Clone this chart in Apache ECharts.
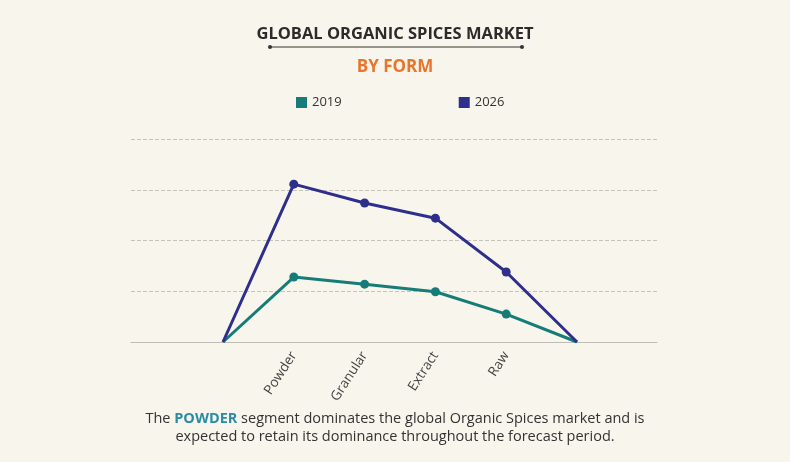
<!DOCTYPE html>
<html><head><meta charset="utf-8">
<script src="https://cdn.jsdelivr.net/npm/echarts@6/dist/echarts.min.js"></script>
<style>html,body{margin:0;padding:0;background:#f8f5ec;}#c{width:790px;height:462px;}</style>
</head><body><div id="c"></div>
<script>
const categories = ['', 'Powder', 'Granular', 'Extract', 'Raw', ''];
const seriesNames = ['2019', '2026'];
const values2019 = [0, 1.28, 1.14, 0.99, 0.55, 0];
const values2026 = [0, 3.11, 2.74, 2.44, 1.38, 0];
const colors = ['#167c78', '#2e2e8c'];

function toData(arr) {
  return arr.map((v, i) => (i === 0 || i === arr.length - 1) ? { value: v, symbolSize: 0 } : v);
}

const chart = echarts.init(document.getElementById('c'));
const font = '"Open Sans", sans-serif';
chart.setOption({
  backgroundColor: '#f8f5ec',
  animation: false,
  title: [
    { text: 'GLOBAL ORGANIC SPICES MARKET', left: 'center', top: 21,
      textStyle: { fontFamily: font, fontWeight: 700, fontSize: 16.5, color: '#2b2b2b' } },
    { text: 'BY FORM', left: 'center', top: 54,
      textStyle: { fontFamily: font, fontWeight: 700, fontSize: 17, color: '#e8752c' } }
  ],
  graphic: [
    { type: 'line', shape: { x1: 270, y1: 47, x2: 522, y2: 47 }, style: { stroke: '#333', lineWidth: 1 } },
    { type: 'circle', shape: { cx: 270, cy: 47, r: 2 }, style: { fill: '#333' } },
    { type: 'circle', shape: { cx: 522, cy: 47, r: 2 }, style: { fill: '#333' } },
    { type: 'text', x: 395, y: 410,
      style: {
        text: '{a|The }{b|POWDER}{a| segment dominates the global Organic Spices market and is}\n{a|expected to retain its dominance throughout the forecast period.}',
        align: 'center', verticalAlign: 'top',
        rich: {
          a: { fontFamily: font, fontSize: 14.5, fontWeight: 400, fill: '#333', lineHeight: 18, align: 'center' },
          b: { fontFamily: font, fontSize: 14.5, fontWeight: 700, fill: '#2a8da3', lineHeight: 18, align: 'center' }
        }
      } }
  ],
  legend: {
    data: seriesNames, left: 291, top: 91, itemWidth: 11, itemHeight: 11, itemGap: 117,
    icon: 'rect',
    textStyle: { fontFamily: font, fontSize: 13, color: '#333' }
  },
  grid: [
    { left: 131, right: 133, top: 139, bottom: 120 },
    { left: 223, right: 213, top: 139, bottom: 120 }
  ],
  xAxis: [
    { gridIndex: 0, type: 'value', min: 0, max: 1, axisLabel: { show: false }, axisTick: { show: false },
      splitLine: { show: false }, axisLine: { show: true, lineStyle: { color: '#bdbdb6', width: 1 } } },
    { gridIndex: 1, type: 'category', data: categories, boundaryGap: false,
      axisLine: { show: false }, axisTick: { show: false },
      axisLabel: { rotate: 57, fontFamily: font, fontSize: 13.5, color: '#444', margin: 11, interval: 0 } }
  ],
  yAxis: [
    { gridIndex: 0, type: 'value', min: 0, max: 4, interval: 1, axisLabel: { show: false },
      axisLine: { show: false }, axisTick: { show: false },
      splitLine: { show: true, lineStyle: { type: 'dashed', color: '#c6c3ba', width: 1 } } },
    { gridIndex: 1, type: 'value', min: 0, max: 4, interval: 1, show: false, splitLine: { show: false } }
  ],
  series: [
    { name: seriesNames[0], type: 'line', xAxisIndex: 1, yAxisIndex: 1, data: toData(values2019),
      color: colors[0], lineStyle: { width: 3, color: colors[0] }, symbol: 'circle', symbolSize: 9,
      itemStyle: { color: colors[0] }, z: 3 },
    { name: seriesNames[1], type: 'line', xAxisIndex: 1, yAxisIndex: 1, data: toData(values2026),
      color: colors[1], lineStyle: { width: 3, color: colors[1] }, symbol: 'circle', symbolSize: 9,
      itemStyle: { color: colors[1] }, z: 4 }
  ]
});
</script></body></html>
